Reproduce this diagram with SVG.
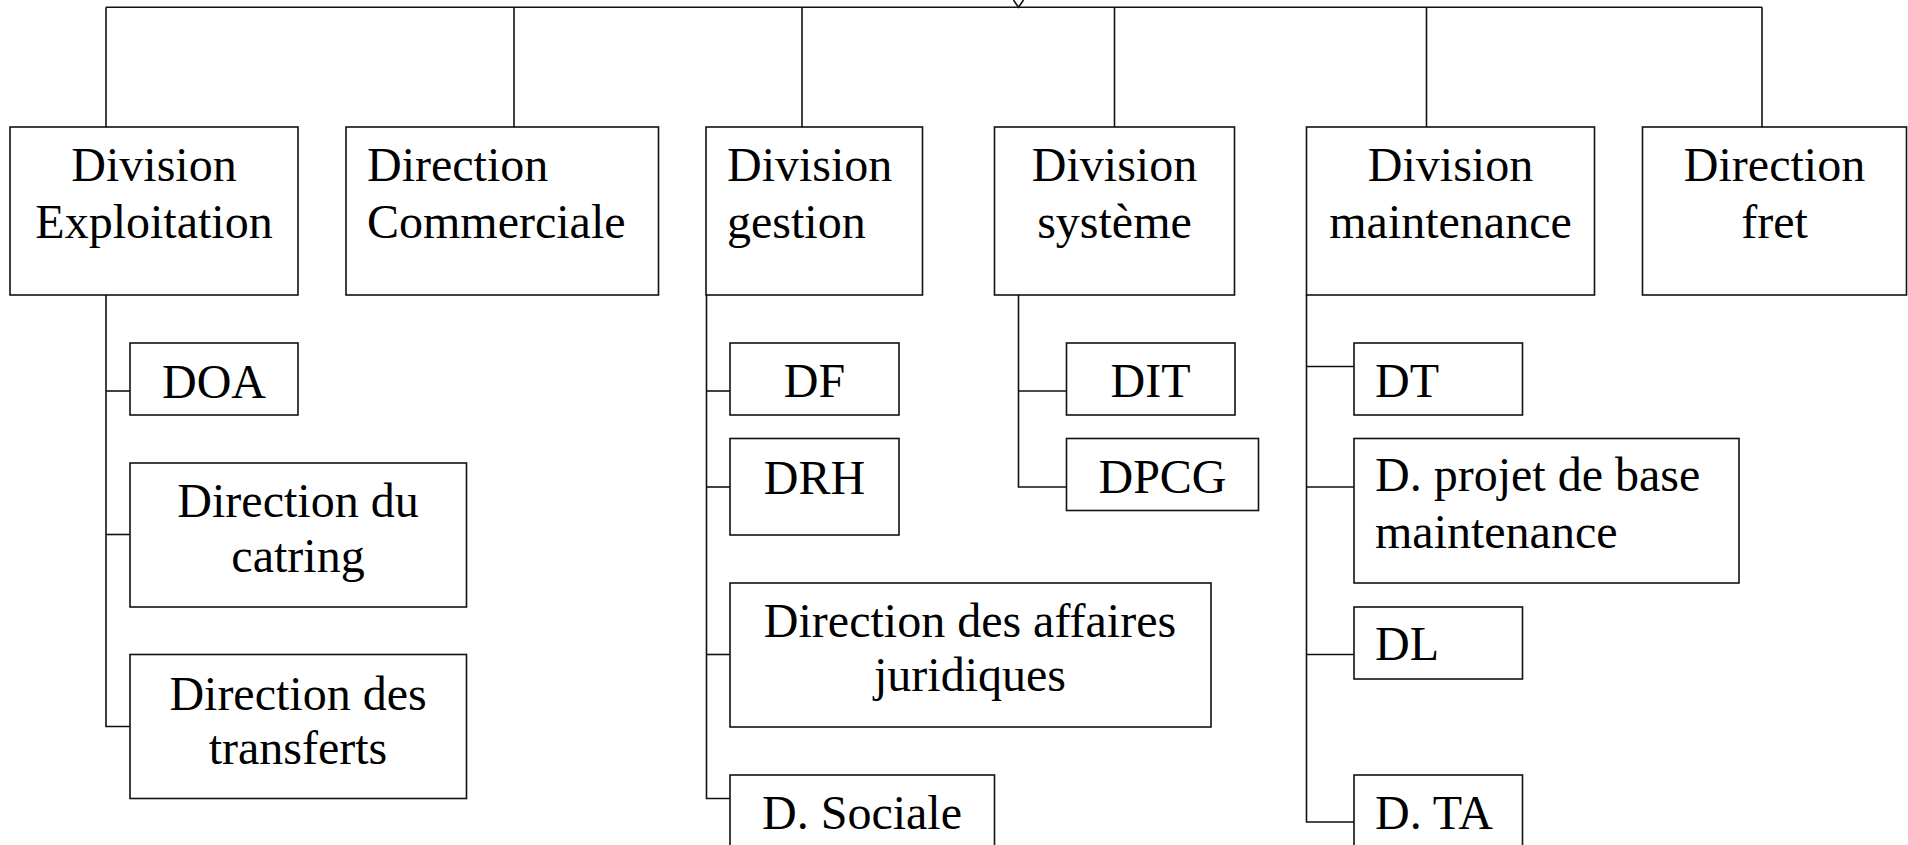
<svg xmlns="http://www.w3.org/2000/svg" width="1908" height="845" viewBox="0 0 1908 845">
<style>
.box{fill:#fff;stroke:#111;stroke-width:1.6}
.ln{fill:none;stroke:#111;stroke-width:1.6}
text{font-family:"Liberation Serif","Times New Roman",serif;font-size:48px;fill:#000}
.c{text-anchor:middle}
</style>
<rect width="1908" height="845" fill="#fff"/>
<g id="connectors">
<polyline class="ln" points="1013.5,0 1018.5,7.3 1023.5,0"/>
<line class="ln" x1="106" y1="7.3" x2="1762" y2="7.3"/>
<line class="ln" x1="106" y1="7.3" x2="106" y2="127"/>
<line class="ln" x1="514" y1="7.3" x2="514" y2="127"/>
<line class="ln" x1="802" y1="7.3" x2="802" y2="127"/>
<line class="ln" x1="1114.5" y1="7.3" x2="1114.5" y2="127"/>
<line class="ln" x1="1426.5" y1="7.3" x2="1426.5" y2="127"/>
<line class="ln" x1="1762" y1="7.3" x2="1762" y2="127"/>
<polyline class="ln" points="106,295 106,726.5 130,726.5"/>
<line class="ln" x1="106" y1="391" x2="130" y2="391"/>
<line class="ln" x1="106" y1="534.5" x2="130" y2="534.5"/>
<polyline class="ln" points="706.5,295 706.5,798.5 730,798.5"/>
<line class="ln" x1="706.5" y1="391" x2="730" y2="391"/>
<line class="ln" x1="706.5" y1="487" x2="730" y2="487"/>
<line class="ln" x1="706.5" y1="654.5" x2="730" y2="654.5"/>
<polyline class="ln" points="1018.5,295 1018.5,487 1066.5,487"/>
<line class="ln" x1="1018.5" y1="391" x2="1066.5" y2="391"/>
<polyline class="ln" points="1306.5,295 1306.5,822 1354,822"/>
<line class="ln" x1="1306.5" y1="366.5" x2="1354" y2="366.5"/>
<line class="ln" x1="1306.5" y1="487" x2="1354" y2="487"/>
<line class="ln" x1="1306.5" y1="654.5" x2="1354" y2="654.5"/>
</g>
<g id="div-exploitation"><rect class="box" x="10" y="127" width="288" height="168"/><text class="c" x="154" y="181">Division</text><text class="c" x="154" y="238">Exploitation</text></g>
<g id="dir-commerciale"><rect class="box" x="346" y="127" width="312.5" height="168"/><text x="367" y="181">Direction</text><text x="367" y="238">Commerciale</text></g>
<g id="div-gestion"><rect class="box" x="706" y="127" width="216.5" height="168"/><text x="727" y="181">Division</text><text x="727" y="238">gestion</text></g>
<g id="div-systeme"><rect class="box" x="994.5" y="127" width="240" height="168"/><text class="c" x="1114.5" y="181">Division</text><text class="c" x="1114.5" y="238">système</text></g>
<g id="div-maintenance"><rect class="box" x="1306.5" y="127" width="288" height="168"/><text class="c" x="1450.5" y="181">Division</text><text class="c" x="1450.5" y="238">maintenance</text></g>
<g id="dir-fret"><rect class="box" x="1642.5" y="127" width="264" height="168"/><text class="c" x="1774.5" y="181">Direction</text><text class="c" x="1774.5" y="238">fret</text></g>
<g id="doa"><rect class="box" x="130" y="343" width="168" height="72"/><text class="c" x="214" y="398">DOA</text></g>
<g id="catring"><rect class="box" x="130" y="463" width="336.5" height="144"/><text class="c" x="298" y="516.5">Direction du</text><text class="c" x="298" y="571.5">catring</text></g>
<g id="transferts"><rect class="box" x="130" y="654.5" width="336.5" height="144"/><text class="c" x="298" y="709.5">Direction des</text><text class="c" x="298" y="764">transferts</text></g>
<g id="df"><rect class="box" x="730" y="343" width="169" height="72"/><text class="c" x="814.5" y="397">DF</text></g>
<g id="drh"><rect class="box" x="730" y="438.5" width="169" height="96.5"/><text class="c" x="814.5" y="494">DRH</text></g>
<g id="juridiques"><rect class="box" x="730" y="583" width="481" height="144"/><text class="c" x="970" y="636.5">Direction des affaires</text><text class="c" x="970" y="690.5">juridiques</text></g>
<g id="sociale"><rect class="box" x="730" y="775" width="264.5" height="90"/><text class="c" x="862" y="829">D. Sociale</text></g>
<g id="dit"><rect class="box" x="1066.5" y="343" width="168.5" height="72"/><text class="c" x="1150.5" y="397">DIT</text></g>
<g id="dpcg"><rect class="box" x="1066.5" y="438.5" width="192" height="72"/><text class="c" x="1162.5" y="492.5">DPCG</text></g>
<g id="dt"><rect class="box" x="1354" y="343" width="168.5" height="72"/><text x="1375" y="397">DT</text></g>
<g id="projet"><rect class="box" x="1354" y="438.5" width="385" height="144.5"/><text x="1375" y="490.5">D. projet de base</text><text x="1375" y="548">maintenance</text></g>
<g id="dl"><rect class="box" x="1354" y="607" width="168.5" height="72"/><text x="1375" y="660">DL</text></g>
<g id="dta"><rect class="box" x="1354" y="775" width="168.5" height="90"/><text x="1375" y="829">D. TA</text></g>
</svg>
